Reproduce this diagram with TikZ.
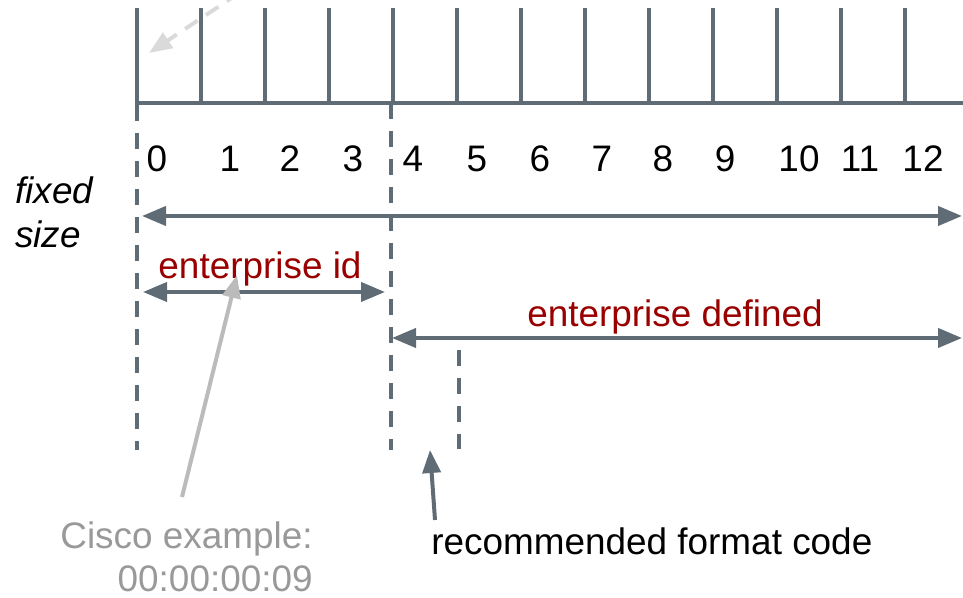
\documentclass[tikz,border=0pt]{standalone}
\usepackage{fontspec}
\setmainfont{Liberation Sans}
\usetikzlibrary{arrows.meta}
\definecolor{slate}{HTML}{5F6C76}
\definecolor{labelred}{HTML}{990000}
\definecolor{pointergrey}{HTML}{BBBBBB}
\definecolor{notegrey}{HTML}{999999}
\definecolor{fadegrey}{HTML}{DADADA}

\begin{document}
\begin{tikzpicture}[
  every node/.style={inner sep=0pt, font=\fontsize{21}{25}\selectfont},
  ruler/.style={draw=slate, line width=0.08cm},
  bound/.style={draw=slate, line width=0.08cm, dash pattern=on 0.32cm off 0.24cm},
  span/.style={draw=slate, line width=0.08cm,
    {Triangle[length=0.48cm,width=0.38cm]}-{Triangle[length=0.48cm,width=0.38cm]}},
  pointer/.style={line width=0.08cm, -{Triangle[length=0.46cm,width=0.36cm]}},
  fieldlabel/.style={text=labelred, anchor=base}
]
  \useasboundingbox (0,0) rectangle (19.26,11.96);
  \clip (0,0) rectangle (19.26,11.96);

  % octet ruler
  \draw[ruler] (2.70,9.90) -- (19.40,9.90);
  \foreach \i in {0,...,12}
    \draw[ruler] ({2.74+1.28*\i},9.90) -- ++(0,1.90);
  \foreach \n/\x in {0/3.14,1/4.60,2/5.80,3/7.06,4/8.26,5/9.54,6/10.80,
                     7/12.04,8/13.26,9/14.50,10/15.98,11/17.20,12/18.46}
    \node[anchor=base] (n\n) at (\x,8.52) {\n};

  % field boundaries
  \coordinate (b0top) at (2.73,9.86);
  \coordinate (b0bot) at (2.73,2.96);
  \coordinate (b4top) at (7.82,9.90);
  \coordinate (b4bot) at (7.82,2.96);
  \coordinate (b5top) at (9.18,4.96);
  \coordinate (b5bot) at (9.18,2.98);
  \path (b0top) edge[bound] (b0bot)
        (b4top) edge[bound] (b4bot)
        (b5top) edge[bound] (b5bot);

  \node[anchor=base west, align=left,
        font=\fontsize{21}{25.5}\selectfont\itshape] (fixed) at (0.30,7.00) {fixed\\size};
  \node[fieldlabel] (entid) at (5.20,6.38) {enterprise id};
  \node[fieldlabel] (entdef) at (13.50,5.42) {enterprise defined};
  \node[anchor=base east, align=right, text=notegrey] (cisco) at (6.26,0.12)
    {Cisco example:\\00:00:00:09};
  \node[anchor=base west] (fmt) at (8.62,0.86) {recommended format code};

  % spans
  \coordinate (fs-l) at (2.84,7.64);
  \coordinate (fs-r) at (19.24,7.64);
  \coordinate (id-l) at (2.86,6.12);
  \coordinate (id-r) at (7.70,6.12);
  \coordinate (ed-l) at (7.84,5.20);
  \coordinate (ed-r) at (19.24,5.20);
  \path (fs-l) edge[span] (fs-r)
        (id-l) edge[span] (id-r)
        (ed-l) edge[span] (ed-r);

  % pointers
  \coordinate (ciscotail) at (3.64,2.02);
  \coordinate (idtip) at (4.74,6.46);
  \coordinate (fmttail) at (8.70,1.56);
  \coordinate (fmttip) at (8.60,2.96);
  \coordinate (fadetail) at (5.20,12.38);
  \coordinate (fadetip) at (2.98,10.90);
  \path (ciscotail) edge[pointer, draw=pointergrey] (idtip)
        (fmttail) edge[pointer, draw=slate] (fmttip)
        (fadetail) edge[pointer, draw=fadegrey, dash pattern=on 0.3cm off 0.2cm] (fadetip);
\end{tikzpicture}
\end{document}
